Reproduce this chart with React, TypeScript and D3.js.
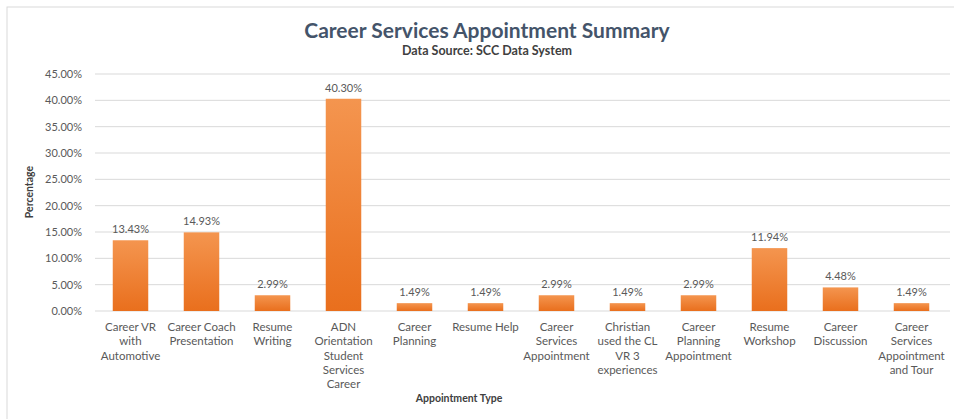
import React from "react";
import * as d3 from "d3";

const categories: string[][] = [
  ["Career VR", "with", "Automotive"],
  ["Career Coach", "Presentation"],
  ["Resume", "Writing"],
  ["ADN", "Orientation", "Student", "Services", "Career"],
  ["Career", "Planning"],
  ["Resume Help"],
  ["Career", "Services", "Appointment"],
  ["Christian", "used the CL", "VR 3", "experiences"],
  ["Career", "Planning", "Appointment"],
  ["Resume", "Workshop"],
  ["Career", "Discussion"],
  ["Career", "Services", "Appointment", "and Tour"],
];
const values: number[] = [13.43, 14.93, 2.99, 40.3, 1.49, 1.49, 2.99, 1.49, 2.99, 11.94, 4.48, 1.49];
const yTicks: number[] = [0, 5, 10, 15, 20, 25, 30, 35, 40, 45];

const title = "Career Services Appointment Summary";
const subtitle = "Data Source: SCC Data System";
const yTitle = "Percentage";
const xTitle = "Appointment Type";

const W = 954;
const H = 419;
const left = 95;
const right = 947;
const top = 74;
const bottom = 311;
const font = "Lato, 'Open Sans', sans-serif";

export default function App() {
  const idx = categories.map((_, i) => String(i));
  const x = d3.scaleBand<string>().domain(idx).range([left, right]).paddingInner(0.5).paddingOuter(0.25);
  const y = d3.scaleLinear().domain([0, 45]).range([bottom, top]);

  return (
    <svg width={W} height={H} style={{ position: "absolute", left: 0, top: 0, background: "#fff" }} fontFamily={font}>
      <defs>
        <linearGradient id="barGrad" x1="0" y1="0" x2="0" y2="1">
          <stop offset="0%" stopColor="#f4954f" />
          <stop offset="100%" stopColor="#e96f1d" />
        </linearGradient>
      </defs>
      <rect x={7} y={7} width={980} height={440} fill="#fff" stroke="#d9d9d9" strokeWidth={1} />
      <text x={487} y={38} textAnchor="middle" fontSize={21} fontWeight={700} fill="#44546a">
        {title}
      </text>
      <text x={487} y={55} textAnchor="middle" fontSize={12.5} fontWeight={700} fill="#404040">
        {subtitle}
      </text>
      {yTicks.map((t) => (
        <g key={t}>
          <line x1={left} x2={950} y1={y(t)} y2={y(t)} stroke="#d9d9d9" strokeWidth={1} />
          <text x={82} y={y(t)} dy="0.35em" textAnchor="end" fontSize={11} fill="#595959">
            {d3.format(".2f")(t) + "%"}
          </text>
        </g>
      ))}
      {values.map((v, i) => {
        const bx = x(String(i))!;
        const bw = x.bandwidth();
        return (
          <g key={i}>
            <rect x={bx} y={y(v)} width={bw} height={bottom - y(v)} fill="url(#barGrad)" />
            <text x={bx + bw / 2} y={y(v) - 7} textAnchor="middle" fontSize={11} fill="#595959">
              {d3.format(".2f")(v) + "%"}
            </text>
          </g>
        );
      })}
      {categories.map((lines, i) => {
        const cx = x(String(i))! + x.bandwidth() / 2;
        return (
          <text key={i} x={cx} y={331} textAnchor="middle" fontSize={11.5} fill="#595959">
            {lines.map((l, j) => (
              <tspan key={j} x={cx} dy={j === 0 ? 0 : 14.3}>
                {l}
              </tspan>
            ))}
          </text>
        );
      })}
      <text transform={`translate(33,192) rotate(-90)`} textAnchor="middle" fontSize={10.5} fontWeight={700} fill="#404040">
        {yTitle}
      </text>
      <text x={459} y={402} textAnchor="middle" fontSize={10.5} fontWeight={700} fill="#404040">
        {xTitle}
      </text>
    </svg>
  );
}
